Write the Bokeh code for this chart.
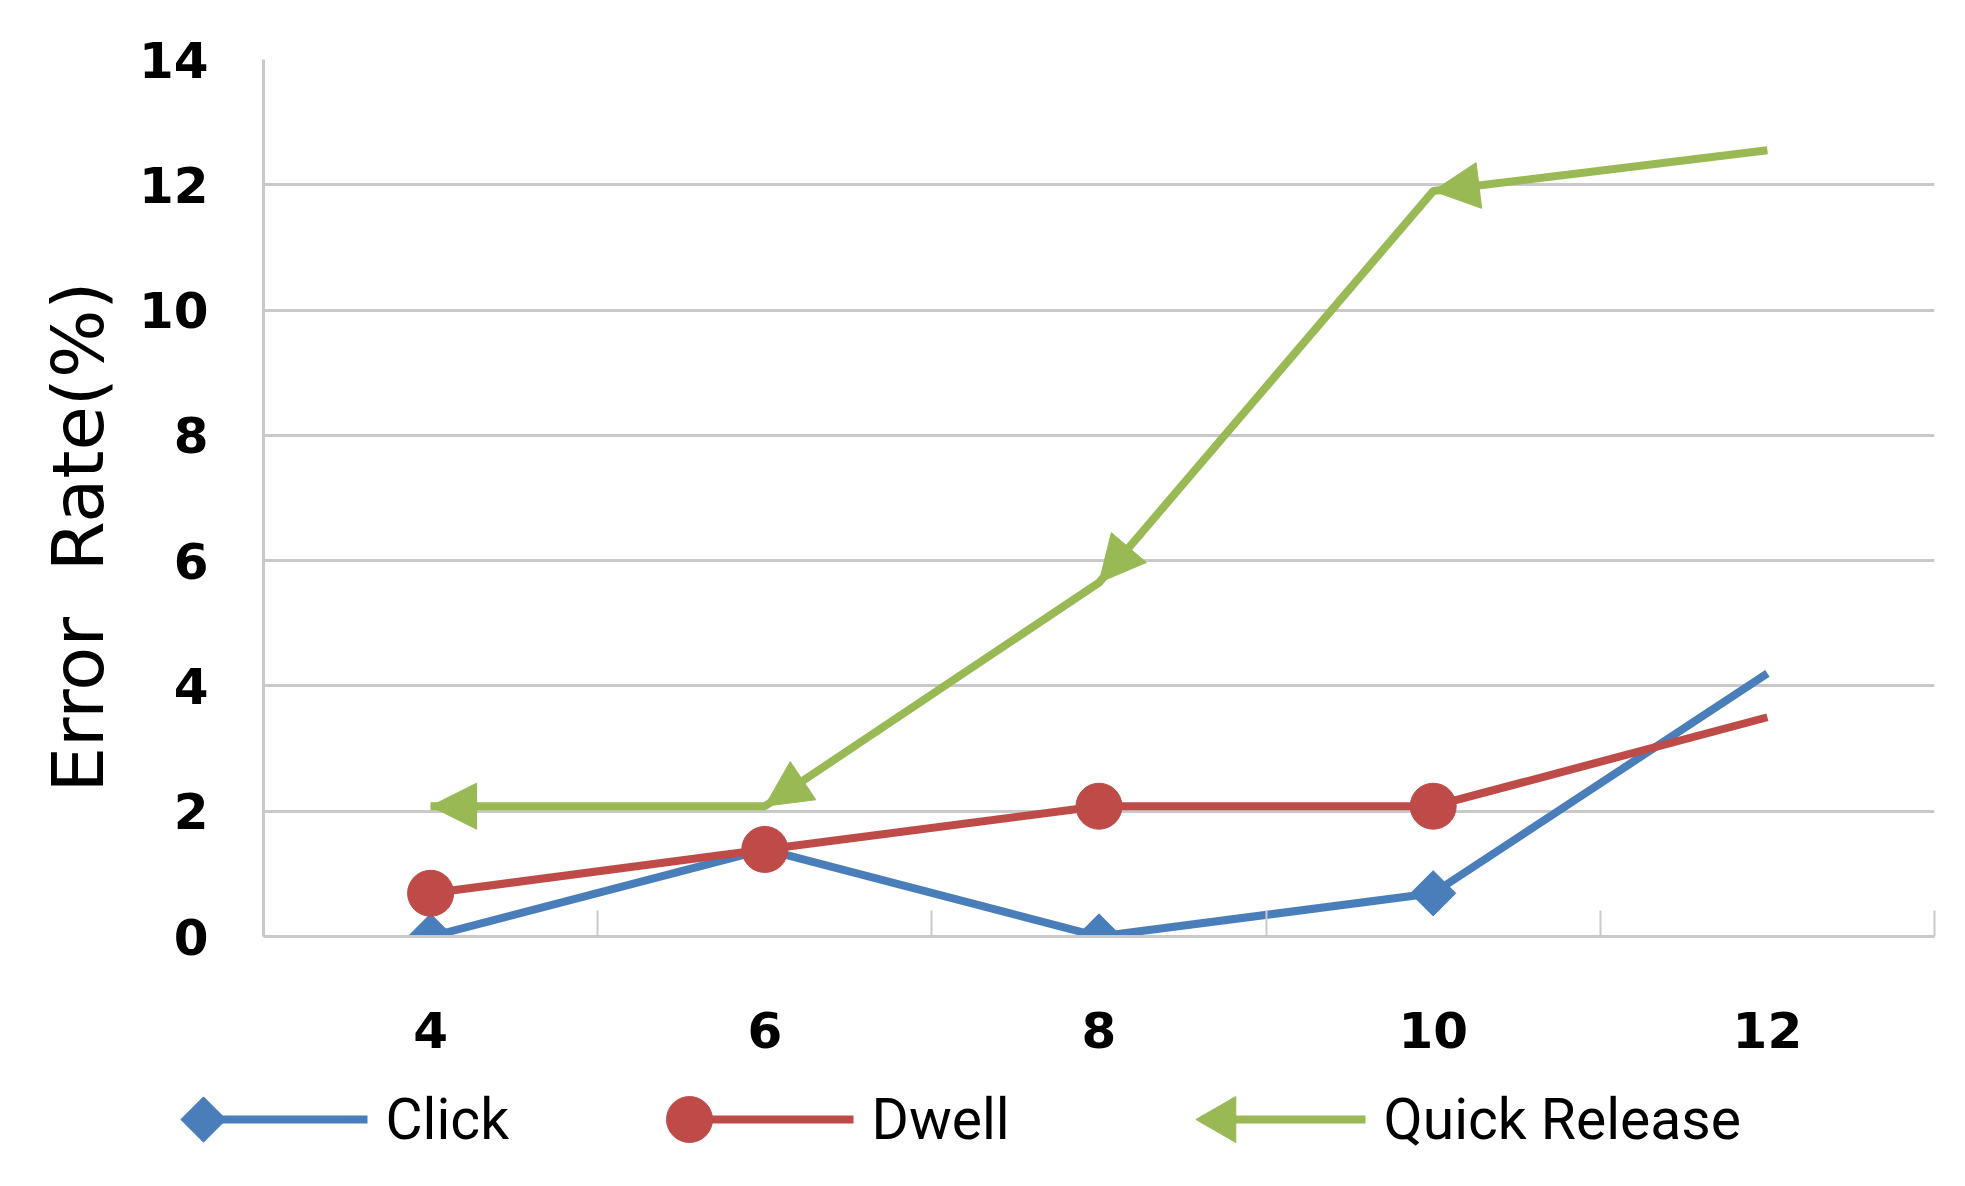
import math
from bokeh.plotting import figure
from bokeh.layouts import column
from bokeh.models import (Range1d, FixedTicker, ColumnDataSource, Arrow, NormalHead, Title)
from bokeh.core.properties import value
from bokeh.embed import file_html
from bokeh.resources import INLINE

# ---- data ----
x_values = [4, 6, 8, 10, 12]
x_labels = ["4", "6", "8", "10", "12"]
click = [0.0, 1.39, 0.0, 0.69, 4.2]
dwell = [0.69, 1.39, 2.08, 2.08, 3.5]
quick_release = [2.08, 2.08, 5.65, 11.9, 12.55]
y_ticks = [0, 2, 4, 6, 8, 10, 12, 14]
series_names = ["Click", "Dwell", "Quick Release"]
y_title = "Error\u00a0 Rate(%)"

BLUE = "#4A7EBB"
RED = "#BE4B48"
GREEN = "#98B954"
GRID = "#c9c9c9"
LW = 8
series_colors = [BLUE, RED, GREEN]
series_markers = ["square", "circle", "triangle"]
marker_angles = [math.pi / 4, 0.0, math.pi / 2]
marker_sizes = [32, 46, 46]

W = 1949
H_MAIN = 1070
H_LEG = 95

half = (x_values[1] - x_values[0]) / 2
bounds = [v - half for v in x_values] + [x_values[-1] + half]

p = figure(width=W, height=H_MAIN, output_backend="svg", toolbar_location=None,
           x_range=Range1d(bounds[0], bounds[-1]), y_range=Range1d(y_ticks[0], y_ticks[-1]),
           min_border_left=263, min_border_right=15, min_border_top=59, min_border_bottom=134)
p.outline_line_color = None
p.background_fill_color = "white"

# axes
p.xaxis.ticker = FixedTicker(ticks=x_values, minor_ticks=bounds)
p.xaxis.major_label_overrides = {v: l for v, l in zip(x_values, x_labels)}
p.xaxis.major_tick_line_color = None
p.xaxis.major_tick_in = 0
p.xaxis.major_tick_out = 0
p.xaxis.minor_tick_in = 26
p.xaxis.minor_tick_out = 0
p.xaxis.minor_tick_line_color = GRID
p.xaxis.minor_tick_line_width = 2
p.xaxis.axis_line_color = GRID
p.xaxis.axis_line_width = 3
p.xaxis.major_label_text_font = "DejaVu Sans"
p.xaxis.major_label_text_font_style = "bold"
p.xaxis.major_label_text_font_size = "50px"
p.xaxis.major_label_text_color = "black"
p.xaxis.major_label_standoff = 75

p.yaxis.ticker = FixedTicker(ticks=y_ticks, minor_ticks=[])
p.yaxis.major_tick_line_color = None
p.yaxis.minor_tick_line_color = None
p.yaxis.major_tick_in = 0
p.yaxis.major_tick_out = 0
p.yaxis.axis_line_color = GRID
p.yaxis.axis_line_width = 3
p.yaxis.major_label_text_font = "DejaVu Sans"
p.yaxis.major_label_text_font_style = "bold"
p.yaxis.major_label_text_font_size = "50px"
p.yaxis.major_label_text_color = "black"
p.yaxis.major_label_standoff = 55

p.xgrid.visible = False
p.ygrid.ticker = FixedTicker(ticks=y_ticks, minor_ticks=[])
p.ygrid.grid_line_color = GRID
p.ygrid.grid_line_width = 3

p.add_layout(Title(text=y_title, align="left", offset=144, text_font="DejaVu Sans",
                   text_font_size="72px", text_font_style="normal", text_color="black",
                   standoff=31), "left")

# series
p.line(x_values, click, line_color=BLUE, line_width=LW)
p.scatter(x_values[:-1], click[:-1], marker="square", angle=math.pi / 4,
          size=32, fill_color=BLUE, line_color=BLUE)
p.line(x_values, dwell, line_color=RED, line_width=LW)
p.scatter(x_values[:-1], dwell[:-1], marker="circle", size=46,
          fill_color=RED, line_color=RED)
p.line(x_values, quick_release, line_color=GREEN, line_width=LW)

arrow_src = ColumnDataSource(dict(x0=x_values[1:], y0=quick_release[1:],
                                  x1=x_values[:-1], y1=quick_release[:-1]))
p.add_layout(Arrow(end=NormalHead(size=46, fill_color=GREEN, line_color=GREEN),
                   x_start="x0", y_start="y0", x_end="x1", y_end="y1",
                   source=arrow_src, line_alpha=0))

# ---- legend strip below the chart (pixel coordinates) ----
lf = figure(width=W, height=H_LEG, output_backend="svg", toolbar_location=None,
            x_range=Range1d(0, W), y_range=Range1d(0, H_LEG), x_axis_type=None,
            y_axis_type=None, min_border=0, min_border_left=0, min_border_right=0,
            min_border_top=0, min_border_bottom=0)
lf.frame_align = False
lf.outline_line_color = None
lf.xgrid.visible = False
lf.ygrid.visible = False

leg_row = 46                       # vertical centre of the legend row
leg_start = [203, 689, 1201]       # left end of each legend swatch
leg_len = 164                      # swatch line length
leg_gap = 18                       # gap between swatch and label
marker_shift = [0, 0, 21]          # the arrow's tip sits at the swatch's left end

leg_src = ColumnDataSource(dict(
    x0=leg_start,
    x1=[s + leg_len for s in leg_start],
    y=[leg_row] * len(series_names),
    mx=[s + d for s, d in zip(leg_start, marker_shift)],
    tx=[s + leg_len + leg_gap for s in leg_start],
    color=series_colors,
    marker=series_markers,
    angle=marker_angles,
    size=marker_sizes,
    label=series_names,
))
lf.segment(x0="x0", y0="y", x1="x1", y1="y", line_color="color", line_width=LW, source=leg_src)
lf.scatter(x="mx", y="y", marker="marker", angle="angle", size="size",
           fill_color="color", line_color="color", source=leg_src)
lf.text(x="tx", y="y", text="label", text_font=value("Roboto"), text_font_size="57px",
        text_color="black", text_baseline="middle", text_align="left", source=leg_src)

layout = column(p, lf, spacing=0)
open("out.html", "w").write(file_html(layout, INLINE))
